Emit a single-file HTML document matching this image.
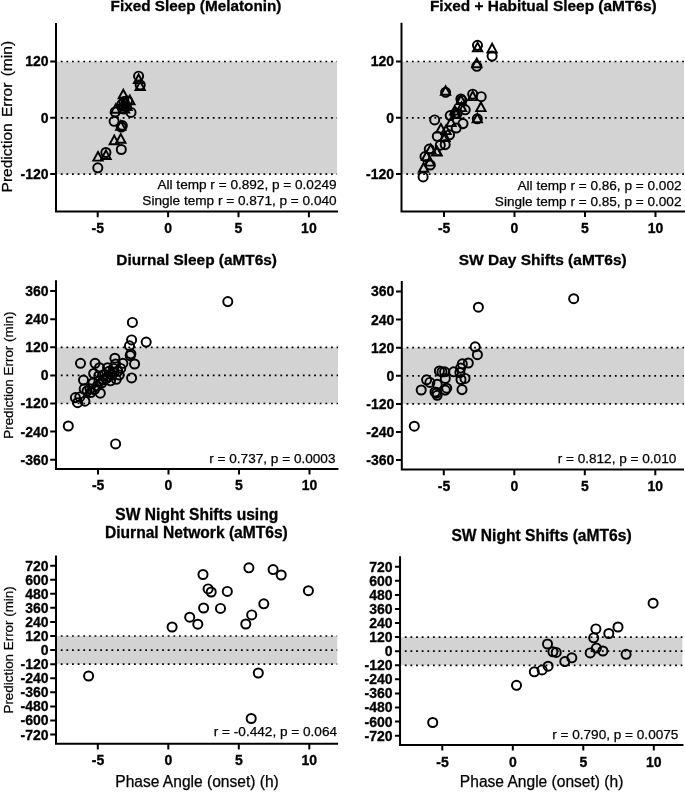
<!DOCTYPE html>
<html lang="en"><head><meta charset="utf-8"><title>Prediction error vs phase angle</title>
<style>html,body{margin:0;padding:0;background:#fff}body{width:685px;height:792px;overflow:hidden}svg{display:block}text{font-family:"Liberation Sans",sans-serif;fill:#000}</style>
</head><body>
<svg width="685" height="792" viewBox="0 0 685 792">
<rect width="685" height="792" fill="#fff"/>
<g>
<rect x="56" y="61.52" width="281.05" height="112.56" fill="#d3d3d3"/>
<path d="M60.78 61.52H337.05" stroke="#000" stroke-width="1.7" stroke-dasharray="1.8 3.83" fill="none"/>
<path d="M60.78 117.8H337.05" stroke="#000" stroke-width="1.7" stroke-dasharray="1.8 3.83" fill="none"/>
<path d="M60.78 174.08H337.05" stroke="#000" stroke-width="1.7" stroke-dasharray="1.8 3.83" fill="none"/>
<path d="M56 23.95V211.55H337.05" stroke="#000" stroke-width="2.0" fill="none" stroke-linecap="square" stroke-linejoin="miter"/>
<path d="M56 61.52h-5.8M56 117.8h-5.8M56 174.08h-5.8M97.7 211.55v5.6M168.1 211.55v5.6M238.5 211.55v5.6M308.9 211.55v5.6" stroke="#000" stroke-width="2.0" fill="none"/>
<g font-weight="bold" font-size="14.0" text-anchor="end" stroke="#000" stroke-width="0.3">
<text x="48.5" y="66.47">120</text>
<text x="48.5" y="122.75">0</text>
<text x="48.5" y="179.03">-120</text>
</g>
<g font-weight="bold" font-size="14.0" text-anchor="middle" stroke="#000" stroke-width="0.3">
<text x="97.85" y="232.8">-5</text>
<text x="168.1" y="232.8">0</text>
<text x="238.5" y="232.8">5</text>
<text x="308.9" y="232.8">10</text>
</g>
<g font-weight="bold" font-size="15.6" text-anchor="middle" stroke="#000" stroke-width="0.3">
<text x="196" y="11" font-size="15.3">Fixed Sleep (Melatonin)</text>
</g>
<g font-size="13.6" text-anchor="end" stroke="#000" stroke-width="0.25">
<text x="336.6" y="188.9">All temp r = 0.892, p = 0.0249</text>
<text x="336.6" y="205">Single temp r = 0.871, p = 0.040</text>
</g>
<text transform="translate(11.6 116.7) rotate(-90)" font-size="15.56" word-spacing="1.9" text-anchor="middle" stroke="#000" stroke-width="0.25">Prediction Error (min)</text>
<g fill="none" stroke="#000" stroke-width="1.95">
<circle cx="138.6" cy="76.2" r="4.55"/>
<circle cx="140.2" cy="84.9" r="4.55"/>
<circle cx="131" cy="112.4" r="4.55"/>
<circle cx="115.2" cy="112" r="4.55"/>
<circle cx="114.1" cy="121.3" r="4.55"/>
<circle cx="121.3" cy="127" r="4.55"/>
<circle cx="122.3" cy="125.6" r="4.55"/>
<circle cx="121.3" cy="149.5" r="4.55"/>
<circle cx="105.9" cy="152.5" r="4.55"/>
<circle cx="97.8" cy="167.8" r="4.55"/>
<circle cx="121.8" cy="104.5" r="4.55"/>
<circle cx="124" cy="101.5" r="4.55"/>
<circle cx="126.3" cy="106" r="4.55"/>
<circle cx="123.5" cy="109" r="4.55"/>
<circle cx="127.5" cy="101" r="4.55"/>
<circle cx="122.2" cy="108" r="4.55"/>
<path d="M138.6 74.5L143.25 83.1H133.95Z"/>
<path d="M140.2 81.5L144.85 90.1H135.55Z"/>
<path d="M123.3 89.7L127.95 98.3H118.65Z"/>
<path d="M129.9 95.6L134.55 104.2H125.25Z"/>
<path d="M115.8 104.2L120.45 112.8H111.15Z"/>
<path d="M123.2 99.5L127.85 108.1H118.55Z"/>
<path d="M125.5 97.5L130.15 106.1H120.85Z"/>
<path d="M127 101.5L131.65 110.1H122.35Z"/>
<path d="M124.5 104L129.15 112.6H119.85Z"/>
<path d="M120.8 121.1L125.45 129.7H116.15Z"/>
<path d="M114.3 135.6L118.95 144.2H109.65Z"/>
<path d="M120.8 134.1L125.45 142.7H116.15Z"/>
<path d="M98 152L102.65 160.6H93.35Z"/>
<path d="M106 150.4L110.65 159H101.35Z"/>
</g>
</g>
<g>
<rect x="401.5" y="61.52" width="282.5" height="112.56" fill="#d3d3d3"/>
<path d="M406.28 61.52H684" stroke="#000" stroke-width="1.7" stroke-dasharray="1.8 3.83" fill="none"/>
<path d="M406.28 117.8H684" stroke="#000" stroke-width="1.7" stroke-dasharray="1.8 3.83" fill="none"/>
<path d="M406.28 174.08H684" stroke="#000" stroke-width="1.7" stroke-dasharray="1.8 3.83" fill="none"/>
<path d="M401.5 23.85V211.4H686.85" stroke="#000" stroke-width="2.0" fill="none" stroke-linecap="square" stroke-linejoin="miter"/>
<path d="M401.5 61.52h-5.5M401.5 117.8h-5.5M401.5 174.08h-5.5M444 211.4v5.6M514.5 211.4v5.6M585 211.4v5.6M655.5 211.4v5.6" stroke="#000" stroke-width="2.0" fill="none"/>
<g font-weight="bold" font-size="14.0" text-anchor="end" stroke="#000" stroke-width="0.3">
<text x="394" y="66.47">120</text>
<text x="394" y="122.75">0</text>
<text x="394" y="179.03">-120</text>
</g>
<g font-weight="bold" font-size="14.0" text-anchor="middle" stroke="#000" stroke-width="0.3">
<text x="444.15" y="232.65">-5</text>
<text x="514.5" y="232.65">0</text>
<text x="585" y="232.65">5</text>
<text x="655.5" y="232.65">10</text>
</g>
<g font-weight="bold" font-size="15.6" text-anchor="middle" stroke="#000" stroke-width="0.3">
<text x="543.3" y="11.1" font-size="15.43">Fixed + Habitual Sleep (aMT6s)</text>
</g>
<g font-size="13.6" text-anchor="end" stroke="#000" stroke-width="0.25">
<text x="681.5" y="189.55">All temp r = 0.86, p = 0.002</text>
<text x="681.5" y="205.55">Single temp r = 0.85, p = 0.002</text>
</g>
<g fill="none" stroke="#000" stroke-width="1.95">
<circle cx="477.5" cy="45.3" r="4.55"/>
<circle cx="492.1" cy="56.1" r="4.55"/>
<circle cx="476.8" cy="66.3" r="4.55"/>
<circle cx="445.6" cy="92.3" r="4.55"/>
<circle cx="472.7" cy="94.2" r="4.55"/>
<circle cx="481.2" cy="96.7" r="4.55"/>
<circle cx="460.9" cy="99" r="4.55"/>
<circle cx="461.9" cy="100.4" r="4.55"/>
<circle cx="477.3" cy="118.8" r="4.55"/>
<circle cx="465.2" cy="109.8" r="4.55"/>
<circle cx="463" cy="123.6" r="4.55"/>
<circle cx="456.2" cy="128" r="4.55"/>
<circle cx="449.5" cy="134.8" r="4.55"/>
<circle cx="450.2" cy="115.6" r="4.55"/>
<circle cx="455.3" cy="113.6" r="4.55"/>
<circle cx="457.2" cy="113.3" r="4.55"/>
<circle cx="445.2" cy="144.6" r="4.55"/>
<circle cx="434.7" cy="119.9" r="4.55"/>
<circle cx="437.3" cy="136.3" r="4.55"/>
<circle cx="440.3" cy="145.2" r="4.55"/>
<circle cx="429.3" cy="149.1" r="4.55"/>
<circle cx="425" cy="156.6" r="4.55"/>
<circle cx="430.2" cy="165" r="4.55"/>
<circle cx="423.1" cy="176.9" r="4.55"/>
<path d="M477.6 42.7L482.25 51.3H472.95Z"/>
<path d="M492.1 43.8L496.75 52.4H487.45Z"/>
<path d="M476.8 58.6L481.45 67.2H472.15Z"/>
<path d="M445.6 86.2L450.25 94.8H440.95Z"/>
<path d="M472.7 91.5L477.35 100.1H468.05Z"/>
<path d="M480.9 102.5L485.55 111.1H476.25Z"/>
<path d="M477.3 113.7L481.95 122.3H472.65Z"/>
<path d="M461 95.5L465.65 104.1H456.35Z"/>
<path d="M461.5 102.5L466.15 111.1H456.85Z"/>
<path d="M454.8 106L459.45 114.6H450.15Z"/>
<path d="M456 109.5L460.65 118.1H451.35Z"/>
<path d="M451 117.5L455.65 126.1H446.35Z"/>
<path d="M446 125.5L450.65 134.1H441.35Z"/>
<path d="M440.9 124L445.55 132.6H436.25Z"/>
<path d="M445 132.5L449.65 141.1H440.35Z"/>
<path d="M436.8 146.5L441.45 155.1H432.15Z"/>
<path d="M430.7 144.5L435.35 153.1H426.05Z"/>
<path d="M426.6 151.5L431.25 160.1H421.95Z"/>
<path d="M423.6 163.1L428.25 171.7H418.95Z"/>
<path d="M429.8 157L434.45 165.6H425.15Z"/>
<path d="M436.9 147L441.55 155.6H432.25Z"/>
</g>
</g>
<g>
<rect x="56" y="347.3" width="282" height="56.21" fill="#d3d3d3"/>
<path d="M60.78 347.3H338" stroke="#000" stroke-width="1.7" stroke-dasharray="1.8 3.83" fill="none"/>
<path d="M60.78 375.4H338" stroke="#000" stroke-width="1.7" stroke-dasharray="1.8 3.83" fill="none"/>
<path d="M60.78 403.5H338" stroke="#000" stroke-width="1.7" stroke-dasharray="1.8 3.83" fill="none"/>
<path d="M56 281.3V469H337.45" stroke="#000" stroke-width="2.0" fill="none" stroke-linecap="square" stroke-linejoin="miter"/>
<path d="M56 291.09h-5.8M56 319.19h-5.8M56 347.3h-5.8M56 375.4h-5.8M56 403.5h-5.8M56 431.61h-5.8M56 459.71h-5.8M98 469v5.6M168.5 469v5.6M239 469v5.6M309.5 469v5.6" stroke="#000" stroke-width="2.0" fill="none"/>
<g font-weight="bold" font-size="14.0" text-anchor="end" stroke="#000" stroke-width="0.3">
<text x="48.5" y="296.04">360</text>
<text x="48.5" y="324.14">240</text>
<text x="48.5" y="352.25">120</text>
<text x="48.5" y="380.35">0</text>
<text x="48.5" y="408.45">-120</text>
<text x="48.5" y="436.56">-240</text>
<text x="48.5" y="464.66">-360</text>
</g>
<g font-weight="bold" font-size="14.0" text-anchor="middle" stroke="#000" stroke-width="0.3">
<text x="98.15" y="490.25">-5</text>
<text x="168.5" y="490.25">0</text>
<text x="239" y="490.25">5</text>
<text x="309.5" y="490.25">10</text>
</g>
<g font-weight="bold" font-size="15.6" text-anchor="middle" stroke="#000" stroke-width="0.3">
<text x="196.6" y="264.9" font-size="15.38">Diurnal Sleep (aMT6s)</text>
</g>
<g font-size="13.6" text-anchor="end" stroke="#000" stroke-width="0.25">
<text x="335.5" y="462.5">r = 0.737, p = 0.0003</text>
</g>
<text transform="translate(13.1 375.1) rotate(-90)" font-size="13.4" word-spacing="0" text-anchor="middle" stroke="#000" stroke-width="0.25">Prediction Error (min)</text>
<g fill="none" stroke="#000" stroke-width="1.95">
<circle cx="132.4" cy="322.4" r="4.55"/>
<circle cx="131.6" cy="339.9" r="4.55"/>
<circle cx="146.2" cy="342.1" r="4.55"/>
<circle cx="129.5" cy="345.8" r="4.55"/>
<circle cx="130.9" cy="353.8" r="4.55"/>
<circle cx="130.2" cy="355.6" r="4.55"/>
<circle cx="134.6" cy="364" r="4.55"/>
<circle cx="131.6" cy="377.9" r="4.55"/>
<circle cx="80.5" cy="363.3" r="4.55"/>
<circle cx="95.1" cy="363.3" r="4.55"/>
<circle cx="114.9" cy="358.2" r="4.55"/>
<circle cx="122.9" cy="363.3" r="4.55"/>
<circle cx="99.5" cy="367.7" r="4.55"/>
<circle cx="115.6" cy="364" r="4.55"/>
<circle cx="93.7" cy="373.5" r="4.55"/>
<circle cx="83.5" cy="380.1" r="4.55"/>
<circle cx="100.3" cy="393.2" r="4.55"/>
<circle cx="84.2" cy="388.8" r="4.55"/>
<circle cx="90.8" cy="392.5" r="4.55"/>
<circle cx="75.4" cy="397.6" r="4.55"/>
<circle cx="77.6" cy="402.7" r="4.55"/>
<circle cx="84.9" cy="401.2" r="4.55"/>
<circle cx="79.8" cy="396.9" r="4.55"/>
<circle cx="104.6" cy="374.2" r="4.55"/>
<circle cx="109" cy="371.3" r="4.55"/>
<circle cx="113.4" cy="368.4" r="4.55"/>
<circle cx="117.8" cy="371.3" r="4.55"/>
<circle cx="119.2" cy="375" r="4.55"/>
<circle cx="116.3" cy="379.3" r="4.55"/>
<circle cx="110.5" cy="380.8" r="4.55"/>
<circle cx="106.1" cy="378.6" r="4.55"/>
<circle cx="101.7" cy="383" r="4.55"/>
<circle cx="97.3" cy="385.9" r="4.55"/>
<circle cx="93" cy="383" r="4.55"/>
<circle cx="90" cy="388.8" r="4.55"/>
<circle cx="98.8" cy="375.7" r="4.55"/>
<circle cx="107.6" cy="367.7" r="4.55"/>
<circle cx="120.7" cy="368.4" r="4.55"/>
<circle cx="87.1" cy="391" r="4.55"/>
<circle cx="94.4" cy="389.6" r="4.55"/>
<circle cx="112" cy="375" r="4.55"/>
<circle cx="108" cy="377" r="4.55"/>
<circle cx="114" cy="372" r="4.55"/>
<circle cx="103" cy="380" r="4.55"/>
<circle cx="99" cy="381" r="4.55"/>
<circle cx="68.3" cy="426" r="4.55"/>
<circle cx="115.6" cy="443.9" r="4.55"/>
<circle cx="227.8" cy="301.6" r="4.55"/>
</g>
</g>
<g>
<rect x="401.8" y="347.7" width="282.2" height="56.21" fill="#d3d3d3"/>
<path d="M406.58 347.7H684" stroke="#000" stroke-width="1.7" stroke-dasharray="1.8 3.83" fill="none"/>
<path d="M406.58 375.8H684" stroke="#000" stroke-width="1.7" stroke-dasharray="1.8 3.83" fill="none"/>
<path d="M406.58 403.9H684" stroke="#000" stroke-width="1.7" stroke-dasharray="1.8 3.83" fill="none"/>
<path d="M401.8 281.95V469.6H683.05" stroke="#000" stroke-width="2.0" fill="none" stroke-linecap="square" stroke-linejoin="miter"/>
<path d="M401.8 291.49h-5.8M401.8 319.59h-5.8M401.8 347.7h-5.8M401.8 375.8h-5.8M401.8 403.9h-5.8M401.8 432.01h-5.8M401.8 460.11h-5.8M443.8 469.6v5.6M514.3 469.6v5.6M584.8 469.6v5.6M655.3 469.6v5.6" stroke="#000" stroke-width="2.0" fill="none"/>
<g font-weight="bold" font-size="14.0" text-anchor="end" stroke="#000" stroke-width="0.3">
<text x="394.3" y="296.44">360</text>
<text x="394.3" y="324.54">240</text>
<text x="394.3" y="352.65">120</text>
<text x="394.3" y="380.75">0</text>
<text x="394.3" y="408.85">-120</text>
<text x="394.3" y="436.96">-240</text>
<text x="394.3" y="465.06">-360</text>
</g>
<g font-weight="bold" font-size="14.0" text-anchor="middle" stroke="#000" stroke-width="0.3">
<text x="443.95" y="490.85">-5</text>
<text x="514.3" y="490.85">0</text>
<text x="584.8" y="490.85">5</text>
<text x="655.3" y="490.85">10</text>
</g>
<g font-weight="bold" font-size="15.6" text-anchor="middle" stroke="#000" stroke-width="0.3">
<text x="542.7" y="265.1" font-size="15.5">SW Day Shifts (aMT6s)</text>
</g>
<g font-size="13.6" text-anchor="end" stroke="#000" stroke-width="0.25">
<text x="676.3" y="463.1">r = 0.812, p = 0.010</text>
</g>
<g fill="none" stroke="#000" stroke-width="1.95">
<circle cx="478.4" cy="307.2" r="4.55"/>
<circle cx="475.2" cy="346.8" r="4.55"/>
<circle cx="477.4" cy="354.7" r="4.55"/>
<circle cx="468.3" cy="363" r="4.55"/>
<circle cx="462.3" cy="363.8" r="4.55"/>
<circle cx="460.6" cy="368.1" r="4.55"/>
<circle cx="453.7" cy="371.8" r="4.55"/>
<circle cx="459.9" cy="372.5" r="4.55"/>
<circle cx="439.4" cy="371" r="4.55"/>
<circle cx="442" cy="371.9" r="4.55"/>
<circle cx="444.6" cy="371.8" r="4.55"/>
<circle cx="445.3" cy="378.4" r="4.55"/>
<circle cx="465" cy="378.4" r="4.55"/>
<circle cx="461" cy="379.5" r="4.55"/>
<circle cx="426.6" cy="379.8" r="4.55"/>
<circle cx="429.9" cy="382.4" r="4.55"/>
<circle cx="437.2" cy="384.2" r="4.55"/>
<circle cx="421.2" cy="390" r="4.55"/>
<circle cx="446.7" cy="388.2" r="4.55"/>
<circle cx="445.3" cy="390.1" r="4.55"/>
<circle cx="462" cy="389.6" r="4.55"/>
<circle cx="436.5" cy="393.1" r="4.55"/>
<circle cx="437.2" cy="395.3" r="4.55"/>
<circle cx="435" cy="392" r="4.55"/>
<circle cx="414.3" cy="426.2" r="4.55"/>
<circle cx="573.7" cy="298.7" r="4.55"/>
</g>
</g>
<g>
<rect x="56" y="636.02" width="281.2" height="28.15" fill="#d3d3d3"/>
<path d="M60.78 636.02H337.2" stroke="#000" stroke-width="1.7" stroke-dasharray="1.8 3.83" fill="none"/>
<path d="M60.78 650.1H337.2" stroke="#000" stroke-width="1.7" stroke-dasharray="1.8 3.83" fill="none"/>
<path d="M60.78 664.18H337.2" stroke="#000" stroke-width="1.7" stroke-dasharray="1.8 3.83" fill="none"/>
<path d="M56 556.5V743.8H337.05" stroke="#000" stroke-width="2.0" fill="none" stroke-linecap="square" stroke-linejoin="miter"/>
<path d="M56 565.64h-5.8M56 579.72h-5.8M56 593.8h-5.8M56 607.87h-5.8M56 621.95h-5.8M56 636.02h-5.8M56 650.1h-5.8M56 664.18h-5.8M56 678.25h-5.8M56 692.33h-5.8M56 706.4h-5.8M56 720.48h-5.8M56 734.56h-5.8M97.8 743.8v5.6M168.3 743.8v5.6M238.8 743.8v5.6M309.3 743.8v5.6" stroke="#000" stroke-width="2.0" fill="none"/>
<g font-weight="bold" font-size="14.0" text-anchor="end" stroke="#000" stroke-width="0.3">
<text x="48.5" y="570.59">720</text>
<text x="48.5" y="584.67">600</text>
<text x="48.5" y="598.75">480</text>
<text x="48.5" y="612.82">360</text>
<text x="48.5" y="626.9">240</text>
<text x="48.5" y="640.97">120</text>
<text x="48.5" y="655.05">0</text>
<text x="48.5" y="669.13">-120</text>
<text x="48.5" y="683.2">-240</text>
<text x="48.5" y="697.28">-360</text>
<text x="48.5" y="711.35">-480</text>
<text x="48.5" y="725.43">-600</text>
<text x="48.5" y="739.51">-720</text>
</g>
<g font-weight="bold" font-size="14.0" text-anchor="middle" stroke="#000" stroke-width="0.3">
<text x="97.95" y="765.05">-5</text>
<text x="168.3" y="765.05">0</text>
<text x="238.8" y="765.05">5</text>
<text x="309.3" y="765.05">10</text>
</g>
<g font-weight="bold" font-size="15.6" text-anchor="middle" stroke="#000" stroke-width="0.3">
<text x="196.8" y="519.9" font-size="15.6">SW Night Shifts using</text>
<text x="196.4" y="537.5" font-size="15.6">Diurnal Network (aMT6s)</text>
</g>
<g font-size="13.6" text-anchor="end" stroke="#000" stroke-width="0.25">
<text x="337" y="736.45">r = -0.442, p = 0.064</text>
</g>
<text transform="translate(13.1 649.9) rotate(-90)" font-size="13.4" word-spacing="0" text-anchor="middle" stroke="#000" stroke-width="0.25">Prediction Error (min)</text>
<text x="197" y="786.6" font-size="15.57" text-anchor="middle" stroke="#000" stroke-width="0.25">Phase Angle (onset) (h)</text>
<g fill="none" stroke="#000" stroke-width="1.95">
<circle cx="172.1" cy="627" r="4.55"/>
<circle cx="189.7" cy="617.2" r="4.55"/>
<circle cx="197.8" cy="624.2" r="4.55"/>
<circle cx="203.6" cy="608" r="4.55"/>
<circle cx="203" cy="574.5" r="4.55"/>
<circle cx="208.1" cy="588.9" r="4.55"/>
<circle cx="211.2" cy="592" r="4.55"/>
<circle cx="227.3" cy="591.4" r="4.55"/>
<circle cx="220.5" cy="608.4" r="4.55"/>
<circle cx="248.9" cy="567.8" r="4.55"/>
<circle cx="245.8" cy="624" r="4.55"/>
<circle cx="251.7" cy="614.9" r="4.55"/>
<circle cx="263.8" cy="603.8" r="4.55"/>
<circle cx="273.1" cy="569.6" r="4.55"/>
<circle cx="281.2" cy="575" r="4.55"/>
<circle cx="308.4" cy="590.7" r="4.55"/>
<circle cx="88.6" cy="676" r="4.55"/>
<circle cx="258.3" cy="673" r="4.55"/>
<circle cx="251.2" cy="718.5" r="4.55"/>
</g>
</g>
<g>
<rect x="400.05" y="637.12" width="282.35" height="28.15" fill="#d3d3d3"/>
<path d="M404.83 637.12H682.4" stroke="#000" stroke-width="1.7" stroke-dasharray="1.8 3.83" fill="none"/>
<path d="M404.83 651.2H682.4" stroke="#000" stroke-width="1.7" stroke-dasharray="1.8 3.83" fill="none"/>
<path d="M404.83 665.28H682.4" stroke="#000" stroke-width="1.7" stroke-dasharray="1.8 3.83" fill="none"/>
<path d="M400.05 557.35V745H682.45" stroke="#000" stroke-width="2.0" fill="none" stroke-linecap="square" stroke-linejoin="miter"/>
<path d="M400.05 566.74h-5.1M400.05 580.82h-5.1M400.05 594.9h-5.1M400.05 608.97h-5.1M400.05 623.05h-5.1M400.05 637.12h-5.1M400.05 651.2h-5.1M400.05 665.28h-5.1M400.05 679.35h-5.1M400.05 693.43h-5.1M400.05 707.5h-5.1M400.05 721.58h-5.1M400.05 735.66h-5.1M442.3 745v5.6M512.8 745v5.6M583.3 745v5.6M653.8 745v5.6" stroke="#000" stroke-width="2.0" fill="none"/>
<g font-weight="bold" font-size="14.0" text-anchor="end" stroke="#000" stroke-width="0.3">
<text x="392.55" y="571.69">720</text>
<text x="392.55" y="585.77">600</text>
<text x="392.55" y="599.85">480</text>
<text x="392.55" y="613.92">360</text>
<text x="392.55" y="628">240</text>
<text x="392.55" y="642.07">120</text>
<text x="392.55" y="656.15">0</text>
<text x="392.55" y="670.23">-120</text>
<text x="392.55" y="684.3">-240</text>
<text x="392.55" y="698.38">-360</text>
<text x="392.55" y="712.45">-480</text>
<text x="392.55" y="726.53">-600</text>
<text x="392.55" y="740.61">-720</text>
</g>
<g font-weight="bold" font-size="14.0" text-anchor="middle" stroke="#000" stroke-width="0.3">
<text x="442.45" y="766.65">-5</text>
<text x="512.8" y="766.65">0</text>
<text x="583.3" y="766.65">5</text>
<text x="653.8" y="766.65">10</text>
</g>
<g font-weight="bold" font-size="15.6" text-anchor="middle" stroke="#000" stroke-width="0.3">
<text x="541.5" y="540.7" font-size="15.6">SW Night Shifts (aMT6s)</text>
</g>
<g font-size="13.6" text-anchor="end" stroke="#000" stroke-width="0.25">
<text x="678.4" y="738.5">r = 0.790, p = 0.0075</text>
</g>
<text x="541.6" y="787.2" font-size="15.57" text-anchor="middle" stroke="#000" stroke-width="0.25">Phase Angle (onset) (h)</text>
<g fill="none" stroke="#000" stroke-width="1.95">
<circle cx="653.1" cy="603.2" r="4.55"/>
<circle cx="618" cy="627" r="4.55"/>
<circle cx="595.9" cy="628.9" r="4.55"/>
<circle cx="608.8" cy="633.5" r="4.55"/>
<circle cx="593.7" cy="637.8" r="4.55"/>
<circle cx="596.4" cy="648.1" r="4.55"/>
<circle cx="602.9" cy="651" r="4.55"/>
<circle cx="590.2" cy="652.9" r="4.55"/>
<circle cx="626.1" cy="654.3" r="4.55"/>
<circle cx="547.5" cy="644" r="4.55"/>
<circle cx="552.9" cy="651.8" r="4.55"/>
<circle cx="556.2" cy="652.4" r="4.55"/>
<circle cx="571.8" cy="657.8" r="4.55"/>
<circle cx="564.8" cy="661.6" r="4.55"/>
<circle cx="548.1" cy="666.2" r="4.55"/>
<circle cx="542.1" cy="669.9" r="4.55"/>
<circle cx="534.3" cy="671.8" r="4.55"/>
<circle cx="516.5" cy="685.3" r="4.55"/>
<circle cx="432.7" cy="722.5" r="4.55"/>
</g>
</g>
</svg></body></html>
